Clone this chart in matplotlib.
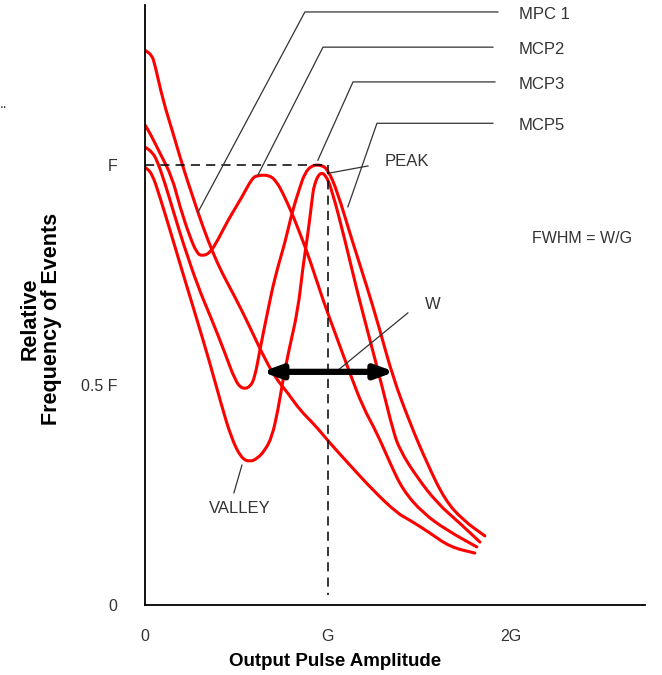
import matplotlib
matplotlib.use("Agg")
import matplotlib.pyplot as plt
from matplotlib.path import Path
from matplotlib.patches import PathPatch

plt.rcParams['font.family'] = ['Liberation Sans', 'DejaVu Sans']

# pulse height distributions, x in units of G, y in units of F
mcp1_x = [0.000, 0.038, 0.055, 0.098, 0.153, 0.208, 0.262, 0.317, 0.372, 0.421, 0.492, 0.563,
          0.639, 0.710, 0.781, 0.847, 0.929, 1.011, 1.120, 1.246, 1.377, 1.448, 1.557, 1.667, 1.803]
mcp1_y = [1.261, 1.250, 1.227, 1.148, 1.073, 0.995, 0.927, 0.859, 0.800, 0.755, 0.700, 0.641,
          0.573, 0.518, 0.482, 0.443, 0.409, 0.368, 0.318, 0.261, 0.209, 0.193, 0.164, 0.132, 0.118]

mcp2_x = [0.000, 0.027, 0.082, 0.148, 0.191, 0.246, 0.284, 0.311, 0.355, 0.399, 0.454, 0.530,
          0.585, 0.617, 0.683, 0.721, 0.754, 0.803, 0.847, 0.902, 0.973, 1.049, 1.120, 1.191,
          1.268, 1.339, 1.410, 1.519, 1.650, 1.814]
mcp2_y = [1.091, 1.073, 1.027, 0.973, 0.905, 0.836, 0.800, 0.793, 0.800, 0.830, 0.875, 0.927,
          0.970, 0.977, 0.977, 0.961, 0.936, 0.891, 0.845, 0.784, 0.693, 0.607, 0.527, 0.450,
          0.391, 0.323, 0.261, 0.209, 0.170, 0.132]

mcp3_x = [0.000, 0.038, 0.066, 0.109, 0.153, 0.208, 0.290, 0.366, 0.437, 0.492, 0.530, 0.574,
          0.601, 0.628, 0.672, 0.710, 0.765, 0.803, 0.847, 0.874, 0.913, 0.967, 1.000, 1.049,
          1.131, 1.219, 1.284, 1.355, 1.448, 1.541, 1.639, 1.738, 1.858]
mcp3_y = [1.041, 1.030, 1.011, 0.959, 0.898, 0.823, 0.723, 0.648, 0.573, 0.511, 0.491, 0.495,
          0.518, 0.580, 0.670, 0.745, 0.823, 0.891, 0.950, 0.982, 1.000, 1.000, 0.989, 0.943,
          0.830, 0.716, 0.625, 0.518, 0.414, 0.323, 0.239, 0.193, 0.157]

mcp5_x = [0.000, 0.038, 0.082, 0.137, 0.197, 0.273, 0.350, 0.415, 0.470, 0.525, 0.574, 0.617,
          0.656, 0.694, 0.727, 0.754, 0.787, 0.836, 0.863, 0.891, 0.913, 0.924, 0.956, 0.989,
          1.022, 1.093, 1.158, 1.230, 1.301, 1.355, 1.393, 1.486, 1.596, 1.721, 1.831]
mcp5_y = [0.995, 0.982, 0.927, 0.852, 0.768, 0.664, 0.557, 0.459, 0.382, 0.334, 0.325, 0.334,
          0.352, 0.382, 0.443, 0.511, 0.580, 0.670, 0.768, 0.845, 0.920, 0.955, 0.984, 0.977,
          0.943, 0.830, 0.716, 0.602, 0.489, 0.398, 0.352, 0.291, 0.232, 0.186, 0.143]

x_ticks = [0, 1, 2]
x_tick_labels = ['0', 'G', '2G']
y_ticks = [0, 0.5, 1]
y_tick_labels = ['0', '0.5 F', 'F']

# callout leaders: (anchor on curve, bend point, end of horizontal), label
callouts = [
    ([0.290, 0.874, 1.929], [0.893, 1.348, 1.348], 'MPC 1'),
    ([0.617, 0.973, 1.902], [0.977, 1.268, 1.268], 'MCP2'),
    ([0.945, 1.137, 1.913], [1.011, 1.189, 1.189], 'MCP3'),
    ([1.109, 1.268, 1.902], [0.905, 1.095, 1.095], 'MCP5'),
]


def smooth_curve(xs, ys):
    # quadratic bezier pieces through the midpoints, read points act as control points
    pts = list(zip(xs, ys))
    verts = [pts[0], ((pts[0][0] + pts[1][0]) / 2, (pts[0][1] + pts[1][1]) / 2)]
    codes = [Path.MOVETO, Path.LINETO]
    for i in range(1, len(pts) - 1):
        mid = ((pts[i][0] + pts[i + 1][0]) / 2, (pts[i][1] + pts[i + 1][1]) / 2)
        verts += [pts[i], mid]
        codes += [Path.CURVE3, Path.CURVE3]
    verts.append(pts[-1])
    codes.append(Path.LINETO)
    return Path(verts, codes)


fig = plt.figure(figsize=(6.62, 6.75), dpi=100)
ax = fig.add_axes([0.219, 0.1037, 0.755, 0.889])

red = '#ff0000'
for xs, ys in [(mcp1_x, mcp1_y), (mcp2_x, mcp2_y), (mcp3_x, mcp3_y), (mcp5_x, mcp5_y)]:
    ax.add_patch(PathPatch(smooth_curve(xs, ys), facecolor='none', edgecolor=red,
                           lw=2.2, joinstyle='round', capstyle='round'))

# dashed guides to the peak
ax.plot([0, 1], [1, 1], color='black', lw=1.1, dashes=(6, 4))
ax.plot([1, 1], [1, 0.023], color='black', lw=1.1, dashes=(6, 4))

gray = '#333333'
for lx, ly, name in callouts:
    ax.plot(lx, ly, color=gray, lw=0.9, clip_on=False)
    ax.text(2.045, ly[-1] - 0.005, name, fontsize=12, color=gray, va='center', ha='left')

ax.plot([1.011, 1.219], [0.982, 0.998], color=gray, lw=0.9)
ax.text(1.311, 1.007, 'PEAK', fontsize=12, color=gray, va='center', ha='left')

ax.plot([1.044, 1.437], [0.530, 0.664], color=gray, lw=0.9)
ax.text(1.574, 0.682, 'W', fontsize=12, color=gray, va='center', ha='center')

ax.plot([0.530, 0.486], [0.318, 0.255], color=gray, lw=0.9)
ax.text(0.519, 0.220, 'VALLEY', fontsize=12, color=gray, va='center', ha='center')

ax.text(2.115, 0.834, 'FWHM = W/G', fontsize=11.5, color=gray, va='center', ha='left')

# width arrow at half maximum
ax.annotate('', xy=(1.366, 0.530), xytext=(0.639, 0.530),
            arrowprops=dict(arrowstyle='<|-|>,head_length=1.1,head_width=0.4',
                            color='black', lw=4.5, shrinkA=0, shrinkB=0))

ax.set_xlim(0, 2.732)
ax.set_ylim(0, 1.364)
ax.spines['top'].set_visible(False)
ax.spines['right'].set_visible(False)
for s in ['left', 'bottom']:
    ax.spines[s].set_linewidth(1.3)
ax.set_xticks(x_ticks)
ax.set_xticklabels(x_tick_labels)
ax.set_yticks(y_ticks)
ax.set_yticklabels(y_tick_labels)
ax.tick_params(axis='x', length=0, pad=17, labelsize=11.5, labelcolor=gray)
ax.tick_params(axis='y', length=0, pad=20, labelsize=11.5, labelcolor=gray)

fig.text(335 / 662, 1 - 661 / 675, 'Output Pulse Amplitude', fontsize=13.5,
         fontweight='bold', ha='center', va='center')
fig.text(41 / 662, 1 - 319 / 675, 'Relative\nFrequency of Events', fontsize=15.5,
         fontweight='bold', ha='center', va='center', rotation=90,
         multialignment='center', linespacing=1.0)
fig.text(0.0, 1 - 104 / 675, '..', fontsize=10, color=gray, ha='left', va='center')

fig.savefig('out.png', dpi=100)
